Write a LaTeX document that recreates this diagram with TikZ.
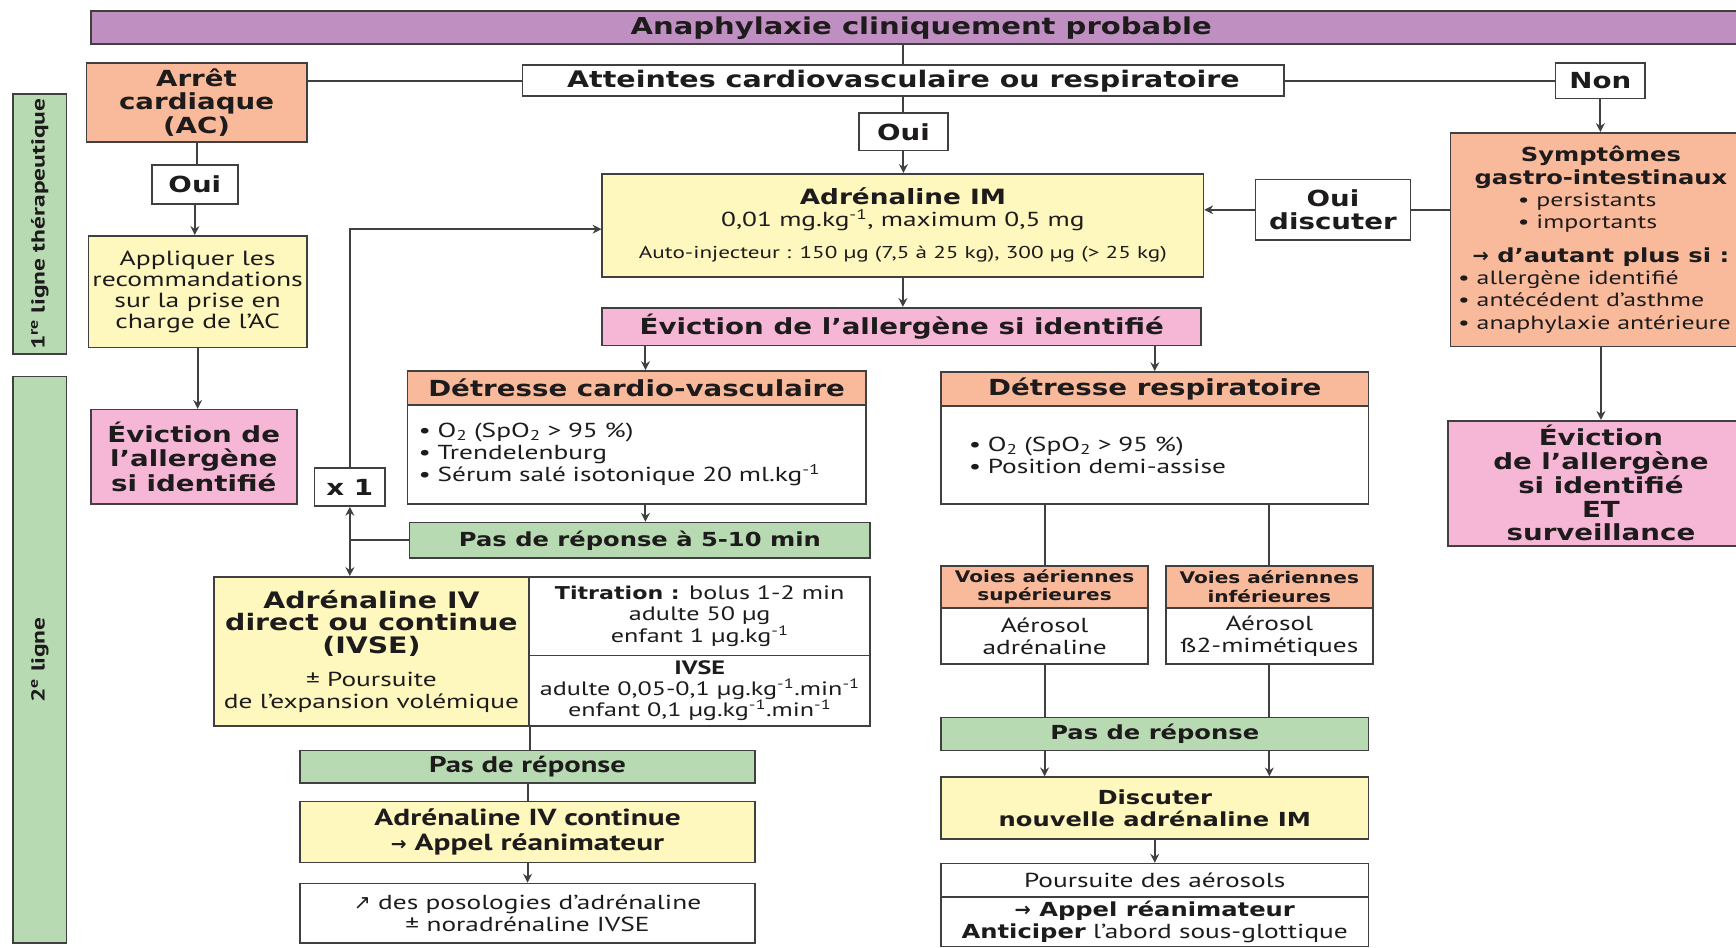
\documentclass[tikz,border=0pt]{standalone}
\usepackage{fontspec}
\setmainfont{PT Sans}[FakeStretch=1.35]
\newfontfamily\hfont{DejaVu Sans}[FakeStretch=1.25]
\newfontfamily\symfont{DejaVu Sans}
\usetikzlibrary{positioning,arrows.meta,calc}

\definecolor{purp}{RGB}{190,143,192}
\definecolor{salmonbox}{RGB}{249,186,156}
\definecolor{paleyel}{RGB}{254,247,190}
\definecolor{pinkbox}{RGB}{246,183,214}
\definecolor{greenbox}{RGB}{184,218,178}
\definecolor{boxline}{RGB}{64,64,64}
\definecolor{ink}{RGB}{30,27,28}

\begin{document}
\begin{tikzpicture}[
  x=1pt, y=-1pt,
  >={Stealth[length=8pt,width=8pt]},
  every node/.style={inner sep=0pt},
  box/.style={draw=boxline, line width=1.5pt, align=center, text=ink},
  hd/.style={font=\hfont\bfseries\fontsize{20}{21.5}\selectfont},
  hdsmall/.style={font=\hfont\bfseries\fontsize{17.5}{19}\selectfont},
  tx/.style={font=\fontsize{18.3}{20}\selectfont},
  link/.style={draw=boxline, line width=1.8pt}
]
  \clip (0,0) rectangle (1568,856);
  \fill[white] (0,0) rectangle (1568,856);

  % Left rails
  \node[box, fill=greenbox, rotate=90, minimum width=235pt, minimum height=48pt,
    font=\bfseries\fontsize{17}{19}\selectfont] (ligne1) at (36,202.5)
    {1\textsuperscript{re} ligne thérapeutique};
  \node[box, fill=greenbox, rotate=90, minimum width=512pt, minimum height=48pt,
    font=\bfseries\fontsize{17}{19}\selectfont] (ligne2) at (36,596)
    {2\textsuperscript{e} ligne};

  % Top
  \node[box, hd, fill=purp, minimum width=1500pt, minimum height=30pt,
    font=\hfont\bfseries\fontsize{21}{22}\selectfont] (titre) at (832,25)
    {Anaphylaxie cliniquement probable};
  \node[box, hd, fill=white, minimum width=688pt, minimum height=28pt,
    font=\hfont\bfseries\fontsize{20.6}{22}\selectfont] (atteintes)
    at (816,73) {Atteintes cardiovasculaire ou respiratoire};
  \node[box, hd, fill=white, minimum width=81pt, minimum height=32pt] (non)
    at (1445.5,73) {Non};
  \node[box, hd, fill=white, minimum width=80pt, minimum height=34pt] (ouiC)
    at (816,119) {Oui};

  % Cardiac arrest branch
  \node[box, hd, fill=salmonbox, minimum width=199pt, minimum height=71pt] (arret)
    at (177.5,92.5) {Arrêt\\cardiaque\\(AC)};
  \node[box, hd, fill=white, minimum width=78pt, minimum height=35pt] (ouiL)
    at (176,166.5) {Oui};
  \node[box, tx, fill=paleyel, minimum width=197pt, minimum height=101pt,
    font=\fontsize{18.5}{19}\selectfont] (appliquer) at (178.5,263.5)
    {Appliquer les\\recommandations\\sur la prise en\\charge de l’AC};
  \node[box, hd, fill=pinkbox, minimum width=186pt, minimum height=85pt,
    font=\hfont\bfseries\fontsize{20}{22}\selectfont] (evicL) at (175,412.5)
    {Éviction de\\l’allergène\\si identifié};

  % Adrenaline IM
  \node[box, tx, fill=paleyel, minimum width=543pt, minimum height=93pt] (adrim)
    at (815.5,203.5)
    {{\hfont\bfseries\fontsize{19}{21}\selectfont Adrénaline IM}\\
     0,01 mg.kg\textsuperscript{-1}, maximum 0,5 mg\\[9pt]
     {\fontsize{15.5}{17}\selectfont Auto-injecteur : 150 µg (7,5 à 25 kg), 300 µg (> 25 kg)}};
  \node[box, hd, fill=pinkbox, minimum width=541pt, minimum height=34pt] (evic)
    at (814.5,295) {Éviction de l’allergène si identifié};

  % Cardiovascular distress
  \node[box, hd, fill=salmonbox, minimum width=414pt, minimum height=31pt] (cvhead)
    at (575,350.5) {Détresse cardio-vasculaire};
  \node[box, tx, fill=white, minimum width=414pt, minimum height=89pt,
    text width=394pt, align=left] (cvbody) at (575,410.5)
    {• O\textsubscript{2} (SpO\textsubscript{2} > 95 \%)\\
     • Trendelenburg\\
     • Sérum salé isotonique 20 ml.kg\textsuperscript{-1}};
  \node[box, hdsmall, fill=greenbox, minimum width=416pt, minimum height=32pt] (pdr1)
    at (578,488) {Pas de réponse à 5-10 min};
  \node[box, hd, fill=white, minimum width=64pt, minimum height=34pt] (xone)
    at (316,440) {x 1};
  \coordinate (jct) at (316,488);

  % IV adrenaline
  \node[box, tx, fill=paleyel, minimum width=285pt, minimum height=135pt] (adriv)
    at (335.5,588.5)
    {{\hfont\bfseries\fontsize{20.5}{21}\selectfont Adrénaline IV}\\
     {\hfont\bfseries\fontsize{20.5}{21}\selectfont direct ou continue}\\
     {\hfont\bfseries\fontsize{20.5}{21}\selectfont (IVSE)}\\[10pt]
     ± Poursuite\\
     de l’expansion volémique};
  \node[box, tx, fill=white, minimum width=308pt, minimum height=71pt,
    font=\fontsize{17.5}{19}\selectfont] (titr) at (632,556.5)
    {{\hfont\bfseries\fontsize{16}{19}\selectfont Titration :} bolus 1-2 min\\
     adulte 50 µg\\
     enfant 1 µg.kg\textsuperscript{-1}};
  \node[box, tx, fill=white, minimum width=308pt, minimum height=64pt,
    font=\fontsize{17.5}{18.5}\selectfont] (ivse) at (632,624)
    {{\bfseries IVSE}\\
     adulte 0,05-0,1 µg.kg\textsuperscript{-1}.min\textsuperscript{-1}\\
     enfant 0,1 µg.kg\textsuperscript{-1}.min\textsuperscript{-1}};
  \node[box, tx, fill=greenbox, minimum width=411pt, minimum height=29pt,
    font=\bfseries\fontsize{20.5}{21}\selectfont] (pdr3) at (476.5,692.5)
    {Pas de réponse};
  \node[box, tx, fill=paleyel, minimum width=411pt, minimum height=55pt,
    font=\bfseries\fontsize{21}{22}\selectfont] (ivcont) at (476.5,751.5)
    {Adrénaline IV continue\\{\symfont\fontsize{17}{22}\selectfont→} Appel réanimateur};
  \node[box, tx, fill=white, minimum width=411pt, minimum height=54pt] (poso)
    at (476.5,825)
    {{\symfont↗} des posologies d’adrénaline\\± noradrénaline IVSE};

  % Respiratory distress
  \node[box, hd, fill=salmonbox, minimum width=386pt, minimum height=31pt] (resphead)
    at (1043,351.5) {Détresse respiratoire};
  \node[box, tx, fill=white, minimum width=386pt, minimum height=88pt,
    text width=336pt, align=left] (respbody) at (1043,411)
    {• O\textsubscript{2} (SpO\textsubscript{2} > 95 \%)\\
     • Position demi-assise};
  \node[box, fill=salmonbox, minimum width=187pt, minimum height=38pt,
    font=\hfont\bfseries\fontsize{14.5}{16.5}\selectfont] (vsuphead) at (943.5,530)
    {Voies aériennes\\supérieures};
  \node[box, tx, fill=white, minimum width=187pt, minimum height=51pt] (vsupbody)
    at (943.5,574.5) {Aérosol\\adrénaline};
  \node[box, fill=salmonbox, minimum width=187pt, minimum height=38pt,
    font=\hfont\bfseries\fontsize{14.5}{16.5}\selectfont] (vinfhead) at (1146.5,530)
    {Voies aériennes\\inférieures};
  \node[box, tx, fill=white, minimum width=187pt, minimum height=51pt] (vinfbody)
    at (1146.5,574.5) {Aérosol\\ß2-mimétiques};
  \node[box, hdsmall, fill=greenbox, minimum width=386pt, minimum height=30pt] (pdr2)
    at (1043,663) {Pas de réponse};
  \node[box, fill=paleyel, minimum width=386pt, minimum height=56pt,
    font=\hfont\bfseries\fontsize{17.5}{19.5}\selectfont] (discuter) at (1043,730)
    {Discuter\\nouvelle adrénaline IM};
  \node[box, tx, fill=white, minimum width=386pt, minimum height=30pt] (poursuite)
    at (1043,795) {Poursuite des aérosols};
  \node[box, tx, fill=white, minimum width=386pt, minimum height=45pt] (appelR)
    at (1043,832.5)
    {{\hfont\bfseries\fontsize{17.5}{19}\selectfont{\symfont→} Appel réanimateur}\\
     {\hfont\bfseries\fontsize{17.5}{19}\selectfont Anticiper} l’abord sous-glottique};

  % Digestive symptoms
  \node[box, hd, fill=white, minimum width=140pt, minimum height=55pt] (ouidisc)
    at (1204,189.5) {Oui\\discuter};
  \node[box, tx, fill=salmonbox, minimum width=272pt, minimum height=193pt,
    font=\fontsize{17.3}{20}\selectfont] (sympt) at (1446,216.5)
    {{\hfont\bfseries\fontsize{17.5}{20}\selectfont Symptômes}\\
     {\hfont\bfseries\fontsize{17.5}{20}\selectfont gastro-intestinaux}\\
     \makebox[150pt][l]{• persistants}\\
     \makebox[150pt][l]{• importants}\\[11pt]
     {\hfont\bfseries\fontsize{17.5}{20}\selectfont{\symfont→} d’autant plus si :}\\
     \makebox[258pt][l]{• allergène identifié}\\
     \makebox[258pt][l]{• antécédent d’asthme}\\
     \makebox[258pt][l]{• anaphylaxie antérieure}};
  \node[box, hd, fill=pinkbox, minimum width=276pt, minimum height=113pt] (evicR)
    at (1446,436.5)
    {Éviction\\de l’allergène\\si identifié\\ET\\surveillance};

  % Connectors
  \draw[link] (atteintes.north) -- (atteintes.north |- titre.south);
  \draw[link] (arret.east |- atteintes.west) -- (atteintes.west);
  \draw[link] (atteintes.east) -- (non.west);
  \draw[link, ->] (non.south) -- (non.south |- sympt.north);
  \draw[link] (atteintes.south) -- (ouiC.north);
  \draw[link, ->] (ouiC.south) -- (ouiC.south |- adrim.north);
  \draw[link] (arret.south) -- (arret.south |- ouiL.north);
  \draw[link, ->] (ouiL.south) -- (ouiL.south |- appliquer.north);
  \draw[link, ->] (appliquer.south) -- (appliquer.south |- evicL.north);
  \draw[link] (sympt.west |- ouidisc.east) -- (ouidisc.east);
  \draw[link, ->] (ouidisc.west) -- (ouidisc.west -| adrim.east);
  \draw[link, ->] (adrim.south) -- (adrim.south |- evic.north);
  \draw[link, ->] ([xshift=8pt]cvhead.north |- evic.south) -- ([xshift=8pt]cvhead.north);
  \draw[link, ->] (resphead.north |- evic.south) -- (resphead.north);
  \draw[link, ->] ([xshift=8pt]cvbody.south) -- ([xshift=8pt]cvbody.south |- pdr1.north);
  \draw[link] (pdr1.west) -- (jct);
  \draw[link, ->] (jct) -- (xone.south);
  \draw[link, ->] (jct) -- (jct |- adriv.north);
  \draw[link, ->] (xone.north) |- ([yshift=-3.5pt]adrim.west);
  \draw[link] (vsuphead.north |- respbody.south) -- (vsuphead.north);
  \draw[link] (vinfhead.north |- respbody.south) -- (vinfhead.north);
  \draw[link] (vsupbody.south) -- (vsupbody.south |- pdr2.north);
  \draw[link] (vinfbody.south) -- (vinfbody.south |- pdr2.north);
  \draw[link, ->] (vsupbody.south |- pdr2.south) -- (vsupbody.south |- discuter.north);
  \draw[link, ->] (vinfbody.south |- pdr2.south) -- (vinfbody.south |- discuter.north);
  \draw[link, ->] (discuter.south) -- (poursuite.north);
  \draw[link, ->] (sympt.south) -- (evicR.north);
  \draw[link] (adriv.south east) -- (adriv.south east |- pdr3.north);
  \draw[link] (pdr3.south) -- (ivcont.north);
  \draw[link, ->] (ivcont.south) -- (poso.north);
\end{tikzpicture}
\end{document}
